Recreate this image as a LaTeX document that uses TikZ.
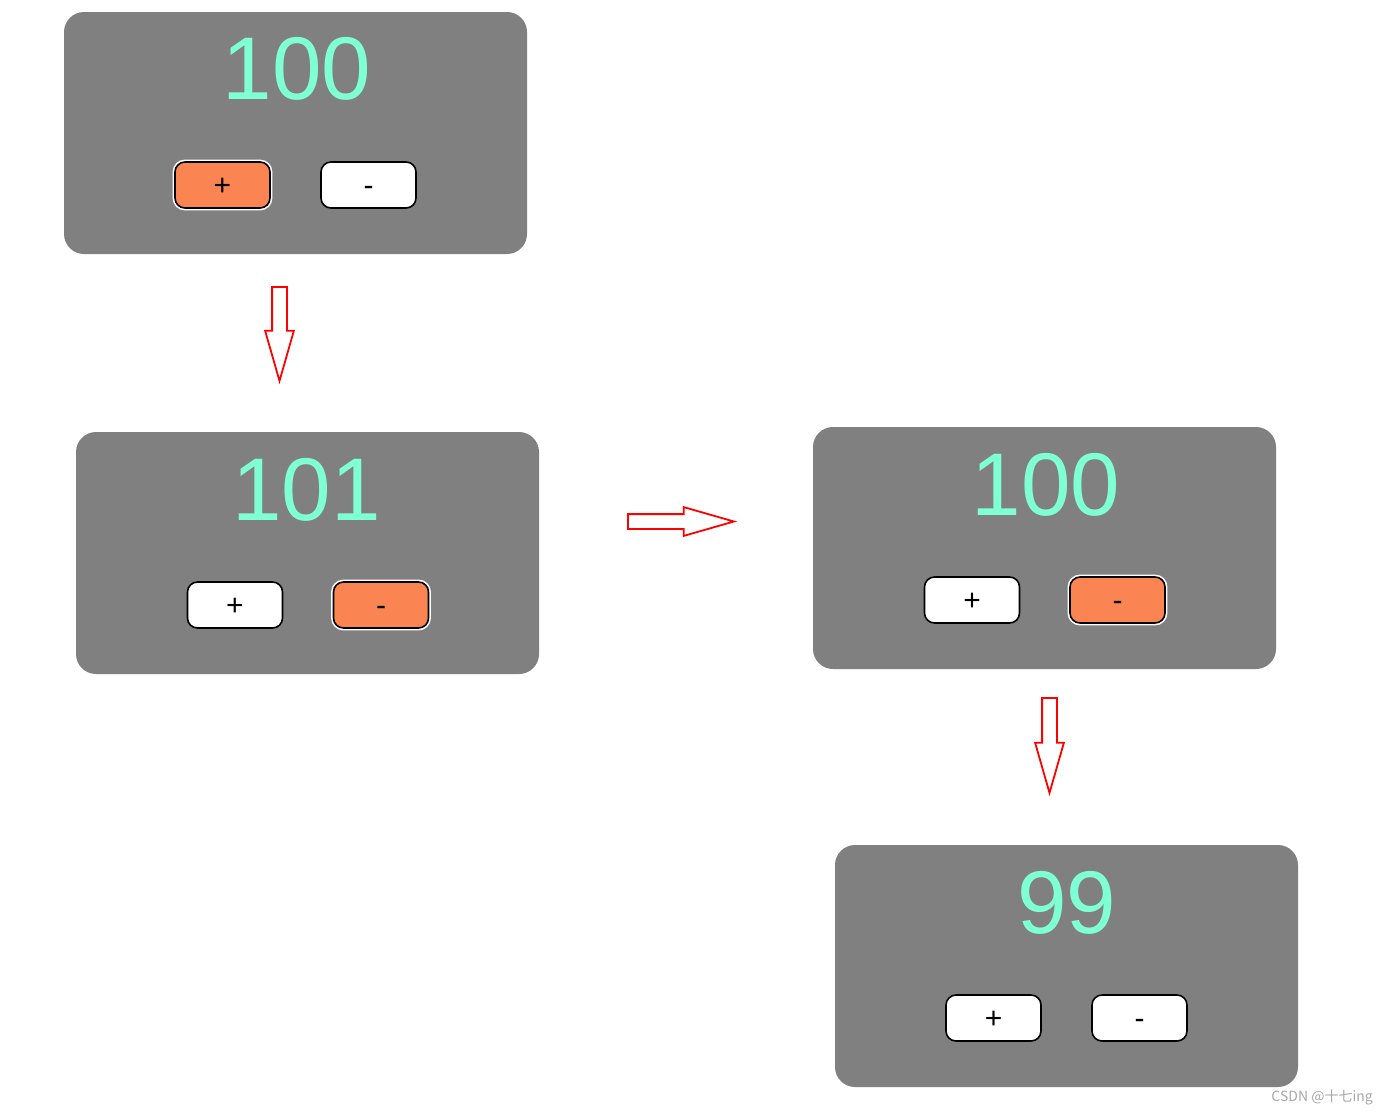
\documentclass[tikz,border=0pt]{standalone}
\usepackage{fontspec}
\setmainfont{Liberation Sans}
\newfontfamily\cjk{Noto Sans CJK SC}
\usetikzlibrary{positioning,calc,shapes.arrows}
\definecolor{panelgray}{HTML}{808080}
\definecolor{mint}{HTML}{7FFFD4}
\definecolor{coral}{HTML}{FA8452}
\definecolor{markgray}{HTML}{A8A8A8}
\tikzset{
  panel/.style={rectangle,rounded corners=20pt,fill=panelgray,draw=none,minimum width=463pt,minimum height=242pt},
  counter/.style={text=mint,inner sep=0pt,font=\fontsize{89}{95}\selectfont},
  btn/.style={rectangle,rounded corners=10pt,draw=black,line width=1.6pt,fill=white,minimum width=95pt,minimum height=46pt,inner sep=0pt,text height=21pt,text depth=0pt,font=\fontsize{30}{33}\selectfont},
  btnon/.style={btn,fill=coral,preaction={draw=white,line width=4.8pt}},
  hollow/.style={single arrow,draw=red,line width=1.8pt,fill=white,inner xsep=0pt,inner ysep=6.5pt,single arrow head extend=7pt,single arrow tip angle=32,anchor=tail}
}
\begin{document}
\begin{tikzpicture}[x=1pt,y=-1pt]
  \useasboundingbox (0,0) rectangle (1389,1114);
  % step 1: click +
  \node[panel] (p1) at (295.5,133) {};
  \node[counter] (n1) at ($(p1)+(1.5,-64)$) {100};
  \node[btnon] (plus1) at ($(p1)+(-73,52)$) {+};
  \node[btn] (minus1) at ($(p1)+(73,52)$) {-};
  \node[hollow,rotate=-90,minimum height=94pt] (arr1) at (279.5,286) {};
  % step 2: click -
  \node[panel] (p2) at (307.5,553) {};
  \node[counter] (n2) at ($(p2)+(-1,-63)$) {101};
  \node[btn] (plus2) at ($(p2)+(-72.5,52)$) {+};
  \node[btnon] (minus2) at ($(p2)+(73.5,52)$) {-};
  \node[hollow,minimum height=106pt] (arr2) at (627,521.5) {};
  % step 3: click - again
  \node[panel] (p3) at (1044.5,548) {};
  \node[counter] (n3) at ($(p3)+(1.5,-63)$) {100};
  \node[btn] (plus3) at ($(p3)+(-72.5,52)$) {+};
  \node[btnon] (minus3) at ($(p3)+(73,52)$) {-};
  \node[hollow,rotate=-90,minimum height=95pt] (arr3) at (1049.5,697) {};
  % step 4
  \node[panel] (p4) at (1066.5,966) {};
  \node[counter] (n4) at ($(p4)+(0.5,-63)$) {99};
  \node[btn] (plus4) at ($(p4)+(-73,52)$) {+};
  \node[btn] (minus4) at ($(p4)+(73,52)$) {-};
  \node[anchor=east,text=markgray,inner sep=0pt,font=\cjk\fontsize{14}{16}\selectfont] (mark) at (1373,1097) {CSDN @十七ing};
\end{tikzpicture}
\end{document}
